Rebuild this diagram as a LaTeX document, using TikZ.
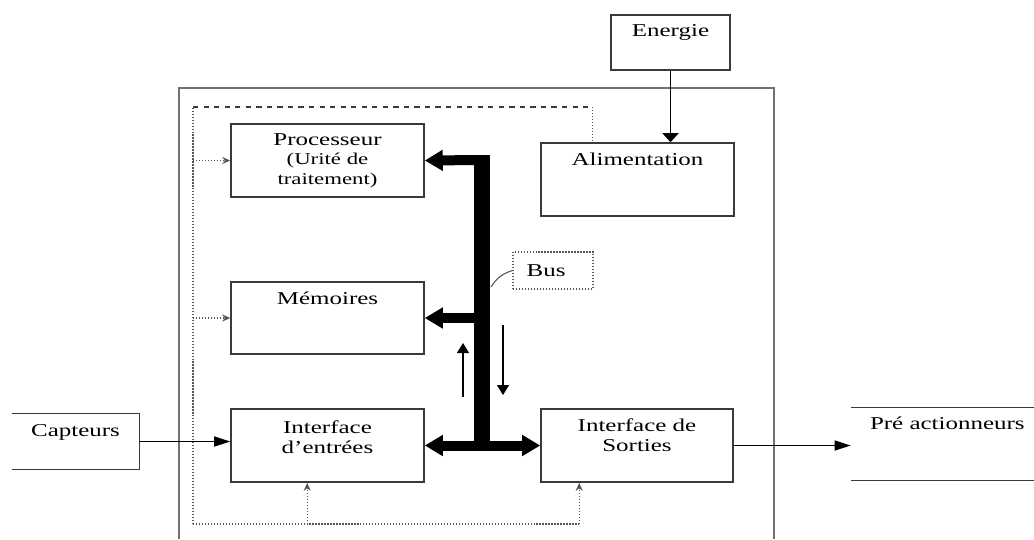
\documentclass[tikz,border=0pt]{standalone}
\usepackage{fontspec}
\setmainfont{Liberation Serif}[FakeStretch=1.38]
\usetikzlibrary{arrows.meta,positioning,calc}
\definecolor{FrameGray}{HTML}{707070}
\definecolor{BoxGray}{HTML}{3A3A3A}
\definecolor{CtrlGray}{HTML}{555555}

\begin{document}
\begin{tikzpicture}[x=0.02cm, y=-0.02cm,
  box/.style={draw=BoxGray, line width=0.9pt, minimum width=3.86cm, minimum height=1.46cm, inner sep=0pt},
  edge/.style={draw=BoxGray, line width=0.9pt},
  txt/.style={inner sep=0pt, align=center, font=\fontsize{10.3}{11}\selectfont},
  bus/.style={line width=0.2cm, -{Triangle[length=0.36cm,width=0.4cm]}},
  busboth/.style={line width=0.2cm, {Triangle[length=0.36cm,width=0.4cm]}-{Triangle[length=0.36cm,width=0.4cm]}},
  sig/.style={line width=0.8pt, -{Triangle[length=0.32cm,width=0.2cm]}},
  feed/.style={line width=0.8pt, -{Triangle[length=0.18cm,width=0.32cm]}},
  flow/.style={line width=0.7pt, -{Triangle[length=0.2cm,width=0.24cm]}},
  ctrl/.style={densely dotted, line width=0.7pt, CtrlGray},
  ctrlarr/.style={ctrl, -{Stealth[length=0.16cm,width=0.14cm,open]}}
]
\useasboundingbox (0,0) rectangle (1034,539);

% cadre de l'automate
\draw[FrameGray, line width=1.2pt] (179,539) -- (179,88) -- (774,88) -- (774,539);

% blocs internes
\node[box, txt] (proc) at (327.5,160.5) {Processeur\\{\fontsize{9.4}{10.5}\selectfont (Urité de}\\{\fontsize{9.4}{10.5}\selectfont traitement)}};
\node[box, minimum height=1.44cm] (mem) at (327.5,318) {};
\node[txt, below=0.2cm of mem.north] (mem-t) {Mémoires};
\node[box] (entr) at (327.5,445.5) {};
\node[txt, below=0.25cm of entr.north] (entr-t) {Interface\\d’entrées};
\node[box, minimum width=3.84cm] (sort) at (637,445.5) {};
\node[txt, below=0.21cm of sort.north] (sort-t) {Interface de\\Sorties};
\node[box] (alim) at (637.5,179.5) {};
\node[txt, below=0.21cm of alim.north] (alim-t) {Alimentation};
\node[box, minimum width=2.38cm, minimum height=1.1cm] (ener) at (670.5,42.5) {};
\node[txt, below=0.2cm of ener.north] (ener-t) {Energie};
\node[draw=CtrlGray, densely dotted, line width=0.7pt, minimum width=1.6cm, minimum height=0.74cm, inner sep=0pt] (buslbl) at (553,270.5) {};
\node[txt, right=0.28cm of buslbl.west] (bus-t) {Bus};

% entrees / sorties exterieures
\node[minimum width=2.54cm, minimum height=1.1cm, inner sep=0pt] (capt) at (75.5,441.5) {};
\node[txt, below=0.2cm of capt.north] (capt-t) {Capteurs};
\draw[edge] (capt.north west) -- (capt.north east) -- (capt.south east) -- (capt.south west);
\node[minimum width=3.66cm, minimum height=1.44cm, inner sep=0pt] (preact) at (942.5,444) {};
\node[txt, below right=0.18cm and 0.38cm of preact.north west] (preact-t) {Pré actionneurs};
\draw[edge] (preact.north west) -- (preact.north east);
\draw[edge] (preact.south west) -- (preact.south east);

% bus
\coordinate (bus-top) at (482,160);
\coordinate (bus-bot) at (482,445.5);
\draw[line width=0.33cm] ([yshift=0.1cm]bus-top) -- (bus-bot);
\draw[bus] (bus-top) -- (proc.east);
\draw[bus] (bus-top |- mem.east) -- (mem.east);
\draw[busboth] (entr.east) -- (sort.west);
\coordinate (bus-hit) at (491,287);
\draw[CtrlGray, line width=0.6pt] (buslbl.west) to[bend right=20] (bus-hit);

\coordinate (up-s) at (463,397);
\coordinate (up-e) at (463,343);
\coordinate (dn-s) at (503,325);
\coordinate (dn-e) at (503,395);
\draw[flow] (up-s) -- (up-e);
\draw[flow] (dn-s) -- (dn-e);

% liaisons
\draw[feed] (ener.south) -- (ener.south |- alim.north);
\draw[sig] (capt.east) -- (capt.east -| entr.west);
\draw[sig] (sort.east) -- (sort.east -| preact.west);

% commandes en pointilles
\coordinate (ctl-tl) at (193,107);
\coordinate (ctl-bl) at (193,524);
\coordinate (alim-tap) at ([xshift=1.04cm]alim.north west);
\coordinate (entr-tap) at ([xshift=1.54cm]entr.south west);
\coordinate (sort-tap) at ([xshift=0.78cm]sort.south west);
\draw[ctrl] (ctl-bl) -- (ctl-tl);
\draw[dashed, line width=0.7pt, BoxGray] (ctl-tl) -- (ctl-tl -| alim-tap);
\draw[ctrl] (ctl-tl -| alim-tap) -- (alim-tap);
\draw[ctrl] (ctl-bl) -- (ctl-bl -| sort-tap);
\draw[ctrlarr] (ctl-tl |- proc.west) -- (proc.west);
\draw[ctrlarr] (ctl-tl |- mem.west) -- (mem.west);
\draw[ctrlarr] (ctl-bl -| entr-tap) -- (entr-tap);
\draw[ctrlarr] (ctl-bl -| sort-tap) -- (sort-tap);
\end{tikzpicture}
\end{document}
